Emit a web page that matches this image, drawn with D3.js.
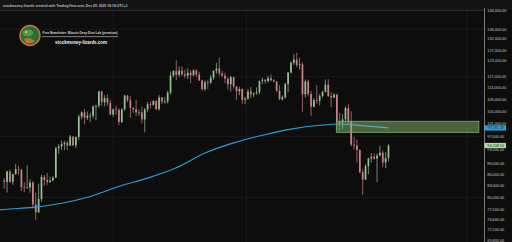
<!DOCTYPE html>
<html>
<head>
<meta charset="utf-8">
<script src="https://d3js.org/d3.v7.min.js"></script>
<style>
  body { margin: 0; background: #0d0d0d; }
  svg { display: block; font-family: "Liberation Sans", Arial, sans-serif; }
</style>
</head>
<body>
<svg id="chart" width="512" height="242"></svg>
<script>
// BTC/USD, two-day candles from mid March to Dec 9 2025, prices in thousands of USD
let firstOpen = 84.3;
let closes = [
  84.0, 86.8, 84.0, 86.1, 87.4, 87.2, 82.6, 82.5, 82.5, 83.8,
  78.2, 76.3, 79.6, 85.3, 84.5, 84.0, 84.4, 85.1, 93.4, 93.9,
  94.6, 95.0, 94.2, 96.9, 94.3, 96.8, 103.2, 104.6, 102.8, 103.5,
  103.5, 106.5, 106.8, 111.7, 108.0, 109.4, 107.8, 103.9, 105.6, 105.4,
  101.5, 105.6, 110.3, 108.6, 106.1, 105.6, 104.6, 104.6, 102.3, 105.6,
  107.3, 107.1, 108.4, 105.7, 109.6, 108.2, 108.2, 111.3, 117.5, 119.1,
  117.7, 119.3, 117.9, 117.4, 118.5, 117.6, 119.4, 117.8, 115.7, 112.5,
  115.0, 114.9, 116.7, 119.3, 120.1, 118.3, 117.5, 116.3, 114.3, 116.9,
  113.5, 111.8, 112.6, 108.8, 109.2, 111.7, 110.7, 111.1, 111.5, 115.5,
  115.9, 115.4, 116.5, 115.7, 115.3, 112.0, 109.0, 109.7, 114.4, 118.6,
  122.3, 123.5, 121.4, 121.7, 110.7, 115.3, 110.8, 106.5, 108.7, 108.5,
  110.1, 111.6, 114.1, 110.1, 109.6, 110.6, 101.5, 101.3, 102.3, 106.0,
  101.6, 94.5, 94.2, 92.9, 86.6, 84.6, 88.3, 90.5, 90.9, 90.4,
  91.3, 92.1, 89.3, 90.6, 94.2085
];
let highs = [
  85.0, 87.0, 87.4, 86.2, 88.8, 88.3, 87.5, 83.9, 88.5, 84.7,
  84.2, 81.2, 83.5, 85.9, 85.8, 86.4, 85.4, 85.6, 93.8, 94.6,
  95.7, 95.6, 95.5, 97.4, 96.9, 96.9, 103.9, 104.9, 105.8, 104.9,
  104.5, 107.0, 107.1, 111.9, 111.9, 110.4, 110.7, 108.9, 105.9, 106.8,
  106.0, 105.9, 110.5, 110.4, 110.0, 106.2, 108.9, 105.5, 106.5, 106.0,
  108.1, 108.2, 108.6, 108.7, 110.5, 109.8, 109.7, 111.9, 118.9, 119.5,
  123.2, 120.9, 120.9, 119.7, 120.2, 119.5, 119.8, 119.8, 118.9, 116.0,
  115.7, 115.7, 117.7, 119.3, 122.3, 124.4, 119.2, 118.6, 116.9, 117.4,
  117.0, 113.6, 113.4, 112.7, 109.9, 112.6, 113.4, 111.3, 113.2, 115.6,
  116.7, 116.2, 117.3, 117.9, 116.2, 115.3, 113.9, 110.3, 114.8, 118.7,
  122.9, 125.7, 126.2, 124.2, 122.5, 116.0, 115.9, 111.9, 109.4, 114.0,
  110.8, 112.0, 116.0, 116.1, 111.5, 111.1, 110.9, 104.5, 104.0, 106.6,
  107.3, 105.0, 96.8, 96.0, 93.1, 87.4, 88.8, 90.6, 92.0, 91.9,
  91.9, 94.1, 92.7, 92.2, 94.6
];
let lows = [
  82.2, 81.2, 83.7, 83.2, 85.8, 85.8, 81.6, 81.3, 82.2, 81.2,
  77.2, 74.5, 76.2, 78.9, 83.0, 83.2, 83.7, 84.1, 85.1, 91.7,
  92.9, 92.9, 92.9, 94.1, 94.0, 93.4, 95.8, 102.3, 100.7, 102.1,
  101.4, 102.6, 102.0, 106.1, 106.7, 106.6, 106.8, 103.6, 103.1, 103.7,
  100.4, 101.1, 105.1, 108.1, 102.8, 104.4, 103.4, 103.5, 101.0, 98.2,
  104.6, 105.9, 106.8, 105.3, 105.1, 107.3, 107.5, 107.5, 110.6, 116.9,
  115.7, 116.9, 117.3, 116.5, 116.2, 114.7, 117.2, 116.9, 115.5, 112.0,
  111.9, 112.6, 114.3, 115.9, 118.1, 117.2, 116.8, 114.7, 112.4, 111.7,
  112.7, 108.8, 110.4, 107.4, 107.3, 108.8, 109.3, 109.8, 110.6, 110.7,
  114.3, 114.4, 114.8, 115.3, 115.0, 111.5, 108.7, 108.6, 109.2, 111.5,
  118.2, 121.5, 120.6, 119.7, 104.8, 109.6, 110.0, 103.5, 106.3, 107.5,
  106.9, 109.6, 111.4, 109.8, 106.3, 109.4, 99.0, 98.9, 99.3, 101.5,
  100.8, 94.0, 93.0, 89.3, 86.3, 80.6, 84.5, 86.1, 89.2, 90.1,
  83.9, 91.0, 88.0, 87.7, 89.6
];

// long moving average (candle index -> price)
let maIndex  = [-1.5, 0, 10, 20, 30, 40, 50, 60, 70, 80, 90, 100, 110, 117, 125, 134];
let maValues = [76.9, 77.0, 77.5, 78.5, 80.2, 82.8, 85.0, 87.8, 92.0, 95.0, 97.3, 99.2, 100.4, 100.8, 100.3, 99.58149];

// supply zone: candle span and price band
let zoneSpan  = [115.8, 165.5];
let zoneRange = [98.2, 101.7];

let priceTicks = [144, 136, 132, 127, 123, 117, 113, 109, 105, 101, 97, 93, 89, 86, 83, 80, 77, 74.6, 72.2, 69.8];
let gridTicks = [136, 117, 97, 80];
let gridIndex = [38, 84.5, 161.3];

let width = 512, height = 242;
let plotRight = 484;
let upColor = '#98c191', downColor = '#cc828a';

let svg = d3.select('#chart');

let x = d3.scaleLinear().domain([0, 134]).range([4.2, 388.5]);
let y = d3.scaleLog().domain([144, 72.2]).range([11, 229.85]);
let fmt = d3.format(',.2f');

// backgrounds
svg.append('rect').attr('width', width).attr('height', height).attr('fill', '#0d0d0d');
svg.append('rect').attr('width', width).attr('height', 10).attr('fill', '#141414');
svg.append('line').attr('x1', 0).attr('x2', width).attr('y1', 10.5).attr('y2', 10.5)
  .attr('stroke', '#2c2c2c').attr('stroke-width', 1);

// grid
svg.append('g').selectAll('line').data(gridTicks).enter().append('line')
  .attr('x1', 0).attr('x2', plotRight)
  .attr('y1', d => y(d)).attr('y2', d => y(d))
  .attr('stroke', '#1a1a1a').attr('stroke-width', 1);
svg.append('g').selectAll('line').data(gridIndex).enter().append('line')
  .attr('x1', d => x(d)).attr('x2', d => x(d))
  .attr('y1', 11).attr('y2', height)
  .attr('stroke', '#1a1a1a').attr('stroke-width', 1);

// candles
let candles = closes.map((c, i) => ({
  i: i,
  open: i === 0 ? firstOpen : closes[i - 1],
  close: c,
  high: highs[i],
  low: lows[i]
}));

let cg = svg.append('g');
cg.selectAll('line').data(candles).enter().append('line')
  .attr('x1', d => x(d.i)).attr('x2', d => x(d.i))
  .attr('y1', d => y(d.high)).attr('y2', d => y(d.low))
  .attr('stroke', d => d.close >= d.open ? upColor : downColor)
  .attr('stroke-width', 0.7);
cg.selectAll('rect').data(candles).enter().append('rect')
  .attr('x', d => x(d.i) - 0.85)
  .attr('width', 1.7)
  .attr('y', d => y(Math.max(d.open, d.close)))
  .attr('height', d => Math.max(0.7, Math.abs(y(d.open) - y(d.close))))
  .attr('fill', d => d.close >= d.open ? upColor : downColor);

// moving average
let maLine = d3.line()
  .x((d, i) => x(maIndex[i]))
  .y(d => y(d))
  .curve(d3.curveMonotoneX);
svg.append('path').datum(maValues)
  .attr('d', maLine)
  .attr('fill', 'none')
  .attr('stroke', '#2c9fd6')
  .attr('stroke-width', 1.1);

// zone
svg.append('rect')
  .attr('x', x(zoneSpan[0]))
  .attr('width', x(zoneSpan[1]) - x(zoneSpan[0]))
  .attr('y', y(zoneRange[1]))
  .attr('height', y(zoneRange[0]) - y(zoneRange[1]))
  .attr('fill', '#86b873').attr('fill-opacity', 0.5)
  .attr('stroke', '#7fae6c').attr('stroke-width', 0.8);

// price axis
svg.append('rect').attr('x', plotRight).attr('y', 10).attr('width', width - plotRight).attr('height', height)
  .attr('fill', '#0d0d0d');
svg.append('line').attr('x1', plotRight + 0.5).attr('x2', plotRight + 0.5).attr('y1', 8).attr('y2', height)
  .attr('stroke', '#7a7a7a').attr('stroke-width', 1);

svg.append('g').selectAll('text').data(priceTicks).enter().append('text')
  .attr('x', 487.3)
  .attr('y', d => y(d) + 1.4)
  .attr('font-size', 3.8)
  .attr('fill', '#c4c4c4')
  .text(d => fmt(d * 1000));

// last value tags
let tags = [
  { v: maValues[maValues.length - 1], bg: '#2aa6e0', fg: '#0b2a3a' },
  { v: closes[closes.length - 1], bg: '#a9e39f', fg: '#16331a' }
];
let tg = svg.append('g').selectAll('g').data(tags).enter().append('g');
tg.append('rect')
  .attr('x', 484.5).attr('width', 21.5)
  .attr('y', d => y(d.v) - 2.6).attr('height', 5.2)
  .attr('fill', d => d.bg);
tg.append('text')
  .attr('x', 487.3).attr('y', d => y(d.v) + 1.4)
  .attr('font-size', 3.8)
  .attr('fill', d => d.fg)
  .text(d => fmt(d.v * 1000));

// header
svg.append('text')
  .attr('x', 2.7).attr('y', 7.2)
  .attr('font-size', 4.3).attr('font-weight', 'bold')
  .attr('fill', '#bdbdbd')
  .attr('textLength', 125).attr('lengthAdjust', 'spacingAndGlyphs')
  .text('stockmoney-lizards created with TradingView.com, Dec 09, 2025 18:18 UTC+1');

// logo + watermark
let logo = svg.append('g');
logo.append('circle').attr('cx', 30).attr('cy', 35.5).attr('r', 10)
  .attr('fill', '#2f6a37').attr('stroke', '#c27a3a').attr('stroke-width', 1.4);
logo.append('ellipse').attr('cx', 28).attr('cy', 33).attr('rx', 5.5).attr('ry', 3.5)
  .attr('fill', '#4f9a4a');
logo.append('path').attr('d', 'M24,39 Q29,36 35,41 Q31,44 26,43 Z').attr('fill', '#c2703a');
logo.append('circle').attr('cx', 26).attr('cy', 32).attr('r', 1).attr('fill', '#e8d27a');

svg.append('text')
  .attr('x', 42.5).attr('y', 34.2)
  .attr('font-size', 3.3).attr('font-weight', 'bold')
  .attr('fill', '#d8d8d8')
  .attr('textLength', 75).attr('lengthAdjust', 'spacingAndGlyphs')
  .text('Free Newsletter: Bitcoin Deep Dive Lab (premium)');
svg.append('line').attr('x1', 42).attr('x2', 118).attr('y1', 36.6).attr('y2', 36.6)
  .attr('stroke', '#cfcfcf').attr('stroke-width', 0.6);
svg.append('text')
  .attr('x', 55).attr('y', 43.6)
  .attr('font-size', 5.2).attr('font-weight', 'bold')
  .attr('fill', '#f2f2f2')
  .attr('textLength', 52).attr('lengthAdjust', 'spacingAndGlyphs')
  .text('stockmoney-lizards.com');
</script>
</body>
</html>
